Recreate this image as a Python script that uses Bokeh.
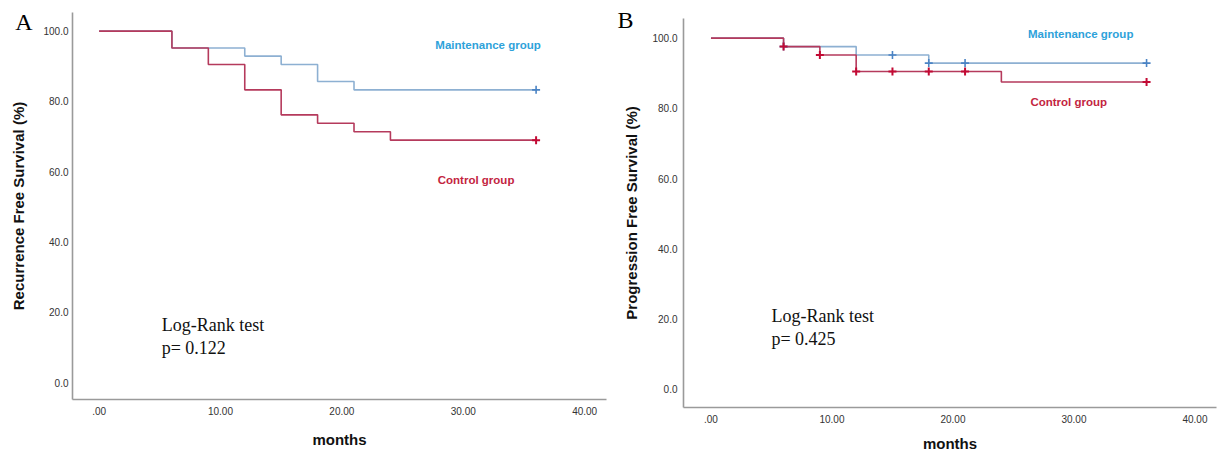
from bokeh.plotting import figure
from bokeh.models import Range1d, FixedTicker, Label, Spacer, LinearAxis
from bokeh.layouts import row, column
from bokeh.embed import file_html
from bokeh.resources import INLINE

# ---------------- data ----------------
x_ticks = [0, 10, 20, 30, 40]
x_tick_labels = [".00", "10.00", "20.00", "30.00", "40.00"]
y_ticks = [0, 20, 40, 60, 80, 100]
y_tick_labels = ["0.0", "20.0", "40.0", "60.0", "80.0", "100.0"]

# Panel A: recurrence free survival
a_maint_t = [0, 6, 12, 15, 18, 21, 36]
a_maint_s = [100, 95.2, 92.9, 90.5, 85.7, 83.3, 83.3]
a_maint_cens_t = [36]
a_maint_cens_s = [83.3]
a_ctrl_t = [0, 6, 9, 12, 15, 18, 21, 24, 36]
a_ctrl_s = [100, 95.2, 90.5, 83.3, 76.2, 73.8, 71.4, 69.0, 69.0]
a_ctrl_cens_t = [36]
a_ctrl_cens_s = [69.0]

# Panel B: progression free survival
b_maint_t = [0, 6, 12, 18, 36]
b_maint_s = [100, 97.6, 95.2, 92.9, 92.9]
b_maint_cens_t = [6, 15, 18, 21, 36]
b_maint_cens_s = [97.6, 95.2, 92.9, 92.9, 92.9]
b_ctrl_t = [0, 6, 9, 12, 24, 36]
b_ctrl_s = [100, 97.6, 95.2, 90.5, 87.5, 87.5]
b_ctrl_cens_t = [6, 9, 12, 15, 18, 21, 36]
b_ctrl_cens_s = [97.6, 95.2, 90.5, 90.5, 90.5, 90.5, 87.5]

# ---------------- style ----------------
BLUE_LINE = "#8db0d2"
RED_LINE = "#b53a5c"
BLUE_CENS = "#4a83c4"
RED_CENS = "#c20a34"
BLUE_TXT = "#2ea2da"
RED_TXT = "#c3253f"
AXIS_COL = "#9a9a9a"


def panel(width, height, borders, xr, yr, ylabel, letter, letter_y, letter_standoff,
          maint, ctrl, maint_cens, ctrl_cens, txt_m, txt_c, lr_xy, pval,
          ylab_standoffs, xlab_standoff):
    p = figure(width=width, height=height, output_backend="svg",
               toolbar_location=None, x_range=Range1d(*xr), y_range=Range1d(*yr))
    p.min_border_left, p.min_border_right, p.min_border_top, p.min_border_bottom = borders
    p.outline_line_color = None
    p.grid.visible = False
    p.background_fill_color = "white"
    p.border_fill_color = "white"

    for ax in (p.xaxis[0], p.yaxis[0]):
        ax.axis_line_color = AXIS_COL
        ax.axis_line_width = 1.6
        ax.major_tick_out = 0
        ax.major_tick_in = 0
        ax.minor_tick_out = 0
        ax.minor_tick_in = 0
        ax.major_label_text_font = "Liberation Sans"
        ax.major_label_text_font_size = "10px"
        ax.major_label_text_color = "#333333"
        ax.axis_label_text_font = "Liberation Sans"
        ax.axis_label_text_font_style = "bold"
        ax.axis_label_text_font_size = "15px"
        ax.axis_label_text_color = "#111111"

    p.xaxis.ticker = FixedTicker(ticks=x_ticks)
    p.xaxis.major_label_overrides = dict(zip(x_ticks, x_tick_labels))
    p.yaxis.ticker = FixedTicker(ticks=y_ticks)
    p.yaxis.major_label_overrides = dict(zip(y_ticks, y_tick_labels))
    p.xaxis.axis_label = "months"
    p.yaxis.axis_label = ylabel
    p.xaxis.major_label_standoff = 7
    p.xaxis.axis_label_standoff = xlab_standoff
    p.yaxis.major_label_standoff = ylab_standoffs[0]
    p.yaxis.axis_label_standoff = ylab_standoffs[1]

    # panel letter, drawn as the single label of an outer, line-less axis
    letter_axis = LinearAxis(ticker=FixedTicker(ticks=[letter_y]),
                             major_label_overrides={letter_y: letter},
                             axis_line_color=None,
                             major_tick_out=0, major_tick_in=0,
                             minor_tick_out=0, minor_tick_in=0,
                             major_label_text_font="Liberation Serif",
                             major_label_text_font_size="24px",
                             major_label_text_color="#000000",
                             major_label_standoff=letter_standoff)
    p.add_layout(letter_axis, "left")

    p.step(maint[0], maint[1], mode="after", line_color=BLUE_LINE, line_width=1.6)
    p.step(ctrl[0], ctrl[1], mode="after", line_color=RED_LINE, line_width=1.6)
    p.scatter(maint_cens[0], maint_cens[1], marker="cross", size=8,
              line_color=BLUE_CENS, line_width=1.6)
    p.scatter(ctrl_cens[0], ctrl_cens[1], marker="cross", size=8,
              line_color=RED_CENS, line_width=2)

    p.add_layout(Label(x=txt_m[0], y=txt_m[1], text="Maintenance group",
                       text_font="Liberation Sans", text_font_style="bold",
                       text_font_size="11.5px", text_color=BLUE_TXT,
                       text_baseline="middle"))
    p.add_layout(Label(x=txt_c[0], y=txt_c[1], text="Control group",
                       text_font="Liberation Sans", text_font_style="bold",
                       text_font_size="11.5px", text_color=RED_TXT,
                       text_baseline="middle"))
    p.add_layout(Label(x=lr_xy[0], y=lr_xy[1], text="Log-Rank test",
                       text_font="Liberation Serif", text_font_size="18px",
                       text_color="#111111", text_baseline="middle"))
    p.add_layout(Label(x=lr_xy[0], y=lr_xy[2], text="p= " + pval,
                       text_font="Liberation Serif", text_font_size="18px",
                       text_color="#111111", text_baseline="middle"))
    return p


pA = panel(610, 452, (72, 4, 12, 53), (-2.19, 41.8), (-4.75, 105.3),
           "Recurrence Free Survival (%)", "A", 102.5, -25,
           (a_maint_t, a_maint_s), (a_ctrl_t, a_ctrl_s),
           (a_maint_cens_t, a_maint_cens_s), (a_ctrl_cens_t, a_ctrl_cens_s),
           (27.7, 96.1), (27.9, 57.8), (5.16, 16.3, 10.0), "0.122",
           (4, 13), 13)

pB = panel(612, 448, (73, 6, 12, 47), (-2.27, 41.78), (-5.2, 105.6),
           "Progression Free Survival (%)", "B", 105.2, -13,
           (b_maint_t, b_maint_s), (b_ctrl_t, b_ctrl_s),
           (b_maint_cens_t, b_maint_cens_s), (b_ctrl_cens_t, b_ctrl_cens_s),
           (26.2, 101.1), (26.4, 81.8), (5.0, 20.8, 14.4), "0.425",
           (6, 9), 9)

layout = row(pA, column(Spacer(width=612, height=6), pB))
open("out.html", "w").write(file_html(layout, INLINE))
